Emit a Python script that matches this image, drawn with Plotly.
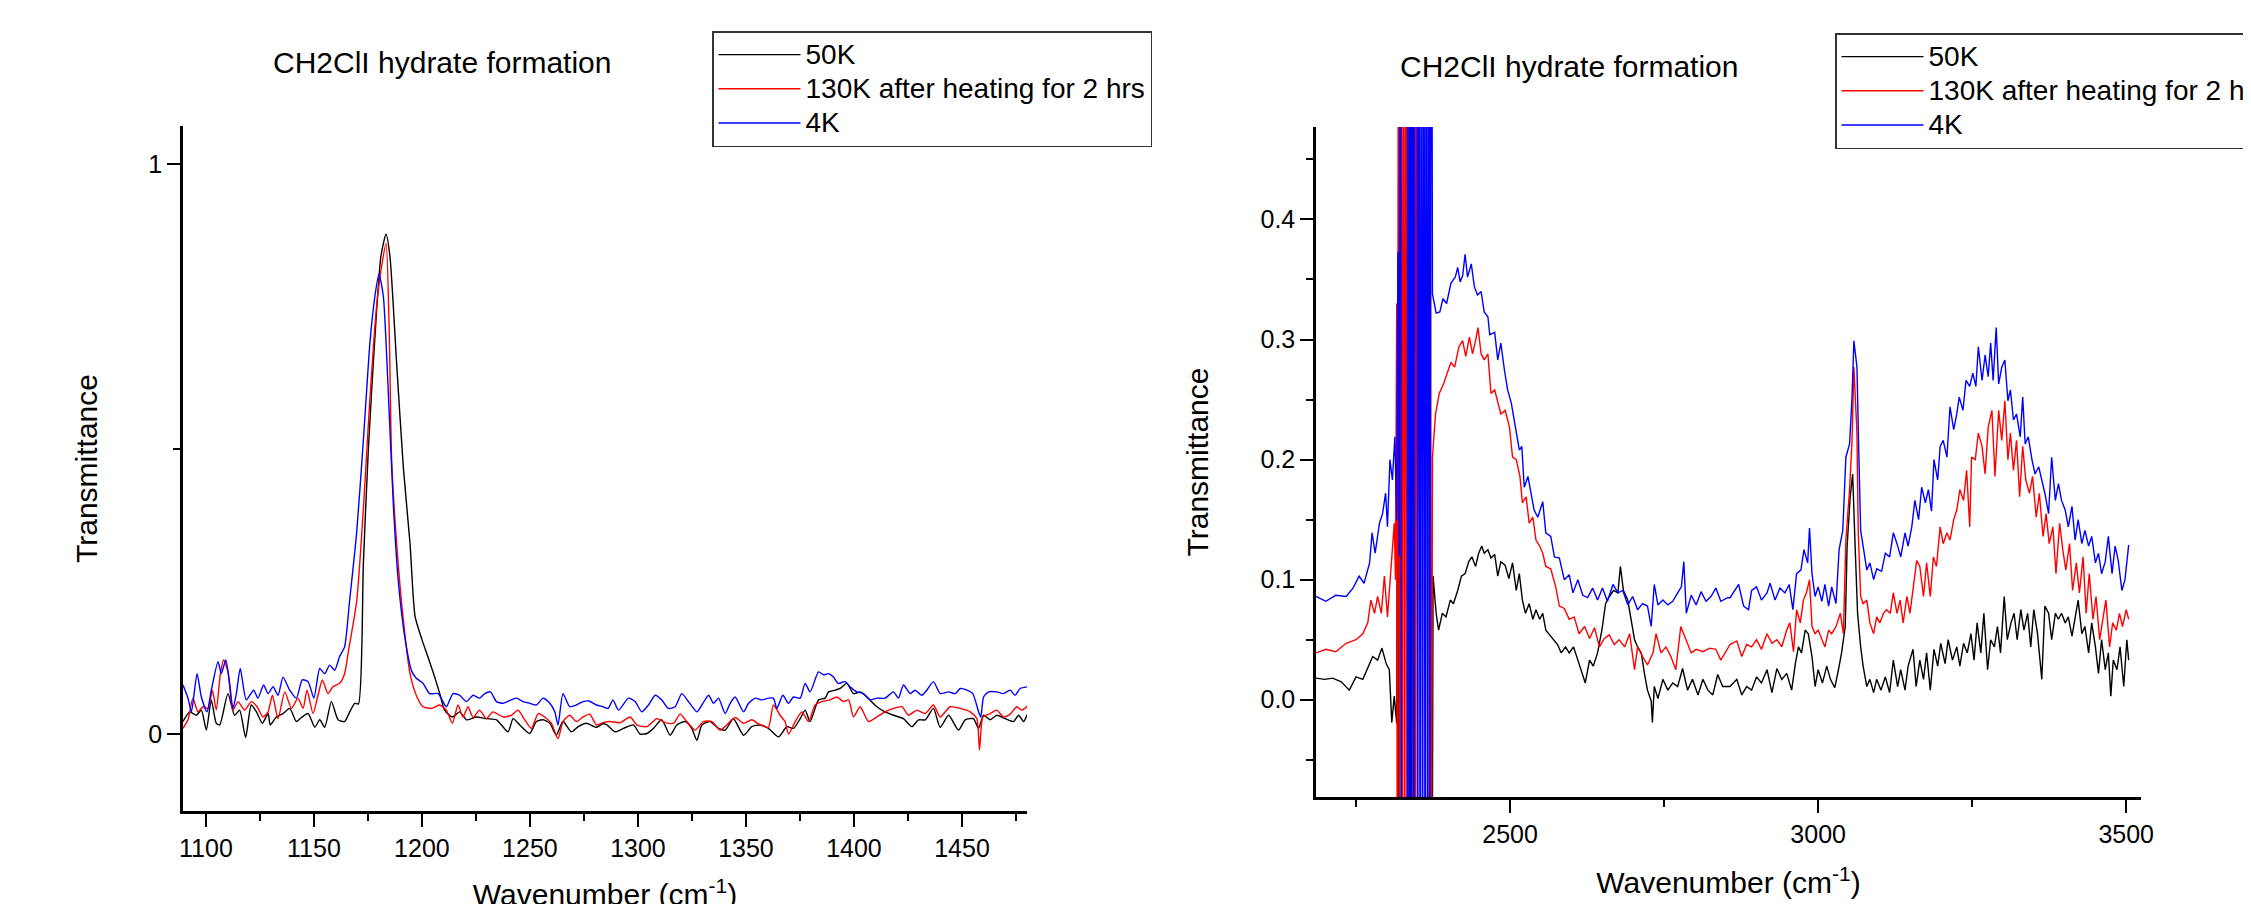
import plotly.graph_objects as go

# ---------------- Left panel data (1090-1480 cm-1) ----------------
L_black_x = [1089.4, 1092.5, 1095.6, 1097.9, 1100.2, 1102.5, 1104.8, 1106.4, 1110.2, 1113.3, 1115.6, 1118.4,
             1121.0, 1123.4, 1126.1, 1128.8, 1129.8, 1132.6, 1135.7, 1138.8, 1141.9, 1144.2, 1147.3, 1150.4,
             1152.7, 1155.0, 1158.1, 1161.2, 1164.2, 1166.6, 1168.9, 1170.6, 1172.9, 1175.2, 1178.3, 1181.0,
             1183.4, 1185.2, 1188.3, 1191.4, 1194.5, 1196.8, 1199.9, 1203.0, 1206.0, 1208.4, 1210.5, 1214.1,
             1217.5, 1220.6, 1225.2, 1229.8, 1234.5, 1239.9, 1242.2, 1245.3, 1249.9, 1253.0, 1256.1, 1259.2,
             1262.2, 1265.3, 1269.2, 1272.3, 1276.1, 1280.8, 1283.8, 1285.6, 1289.4, 1293.3, 1297.9, 1301.0,
             1304.1, 1307.2, 1311.0, 1314.9, 1318.0, 1321.9, 1324.9, 1327.3, 1329.6, 1333.4, 1337.3, 1340.4,
             1344.2, 1348.9, 1352.7, 1356.6, 1360.4, 1365.1, 1368.9, 1372.0, 1375.1, 1377.4, 1379.7, 1383.6,
             1386.7, 1388.2, 1391.3, 1393.6, 1396.7, 1399.8, 1402.9, 1406.0, 1410.6, 1414.4, 1418.3, 1422.9,
             1426.8, 1429.9, 1433.0, 1436.8, 1439.9, 1443.8, 1448.4, 1451.5, 1455.3, 1457.7, 1460.0, 1463.1,
             1466.1, 1470.0, 1473.9, 1476.2, 1478.5, 1480.3]
L_black_y = [0.022, 0.039, 0.033, 0.042, 0.007, 0.060, 0.019, 0.016, 0.071, 0.033, 0.042, -0.006,
             0.051, 0.039, 0.019, 0.036, 0.016, 0.030, 0.036, 0.045, 0.022, 0.029, 0.036, 0.012,
             0.025, 0.012, 0.057, 0.025, 0.022, 0.039, 0.054, 0.053, 0.300, 0.500, 0.700, 0.838,
             0.877, 0.838, 0.650, 0.468, 0.334, 0.207, 0.167, 0.133, 0.099, 0.069, 0.042, 0.030,
             0.039, 0.025, 0.030, 0.027, 0.025, 0.004, 0.027, 0.016, 0.001, 0.022, 0.025, 0.019,
             -0.002, 0.022, 0.004, 0.013, 0.019, 0.012, 0.018, 0.016, 0.004, 0.010, 0.016, 0.000,
             0.001, 0.010, 0.025, -0.002, 0.016, 0.022, 0.010, -0.011, 0.016, 0.022, 0.010, 0.007,
             0.027, -0.002, 0.013, 0.016, 0.010, -0.005, 0.013, 0.010, 0.027, 0.042, 0.022, 0.060,
             0.063, 0.074, 0.077, 0.080, 0.089, 0.071, 0.074, 0.065, 0.048, 0.039, 0.033, 0.027,
             0.013, 0.025, 0.025, 0.045, 0.012, 0.033, 0.007, 0.025, 0.027, 0.010, 0.033, 0.025,
             0.033, 0.027, 0.022, 0.033, 0.022, 0.035]

L_red_x = [1089.4, 1091.7, 1094.0, 1096.3, 1098.7, 1101.0, 1103.0, 1104.8, 1106.7, 1108.2, 1110.2, 1112.5,
           1114.9, 1117.9, 1121.0, 1123.7, 1126.4, 1128.8, 1130.8, 1133.4, 1136.5, 1139.6, 1142.6, 1145.0,
           1146.8, 1149.6, 1151.9, 1153.9, 1156.5, 1158.8, 1161.9, 1164.2, 1166.0, 1169.8, 1172.9, 1175.6,
           1179.0, 1181.3, 1183.4, 1184.9, 1186.0, 1188.3, 1191.4, 1194.5, 1197.6, 1200.5, 1204.4, 1208.2,
           1211.3, 1214.1, 1216.7, 1219.0, 1221.3, 1223.7, 1226.7, 1229.8, 1232.9, 1237.5, 1241.4, 1244.5,
           1247.6, 1250.7, 1253.8, 1256.8, 1259.9, 1263.0, 1265.3, 1268.4, 1271.5, 1274.6, 1277.7, 1280.8,
           1283.8, 1287.1, 1291.8, 1296.4, 1299.5, 1304.1, 1308.7, 1312.6, 1316.5, 1319.5, 1322.6, 1326.5,
           1330.3, 1334.2, 1338.1, 1341.1, 1345.0, 1348.9, 1352.7, 1356.6, 1360.4, 1362.7, 1365.8, 1368.1,
           1369.7, 1372.8, 1375.9, 1379.0, 1382.0, 1385.1, 1389.0, 1392.1, 1395.2, 1397.5, 1399.8, 1402.9,
           1406.7, 1410.6, 1414.4, 1418.3, 1422.2, 1425.2, 1429.1, 1433.0, 1436.8, 1439.9, 1444.5, 1449.2,
           1453.8, 1456.9, 1458.1, 1459.7, 1463.1, 1466.1, 1469.2, 1472.3, 1475.4, 1477.7, 1480.3]
L_red_y = [0.010, 0.025, 0.063, 0.039, 0.048, 0.045, 0.077, 0.042, 0.106, 0.130, 0.109, 0.042,
           0.057, 0.042, 0.057, 0.048, 0.030, 0.039, 0.068, 0.027, 0.074, 0.045, 0.063, 0.045,
           0.077, 0.036, 0.068, 0.095, 0.071, 0.083, 0.089, 0.106, 0.146, 0.233, 0.395, 0.569,
           0.750, 0.820, 0.861, 0.700, 0.480, 0.334, 0.200, 0.106, 0.066, 0.048, 0.045, 0.051,
           0.042, 0.019, 0.051, 0.030, 0.048, 0.029, 0.042, 0.027, 0.039, 0.030, 0.033, 0.042,
           0.025, 0.010, 0.036, 0.030, 0.019, -0.008, 0.022, 0.033, 0.022, 0.030, 0.035, 0.016,
           0.020, 0.022, 0.020, 0.030, 0.016, 0.013, 0.027, 0.020, 0.019, 0.035, 0.022, 0.007,
           0.022, 0.022, 0.007, 0.016, 0.029, 0.019, 0.025, 0.016, 0.012, 0.051, 0.033, 0.022,
           0.000, 0.022, 0.039, 0.022, 0.051, 0.057, 0.060, 0.065, 0.057, 0.060, 0.030, 0.048,
           0.022, 0.030, 0.039, 0.045, 0.048, 0.033, 0.042, 0.036, 0.051, 0.030, 0.048, 0.045,
           0.039, 0.027, -0.028, 0.030, 0.036, 0.042, 0.030, 0.035, 0.048, 0.042, 0.049]

L_blue_x = [1089.4, 1091.7, 1093.3, 1095.9, 1097.9, 1100.5, 1102.5, 1105.6, 1107.1, 1109.2, 1111.0, 1112.5,
            1114.1, 1115.9, 1118.7, 1122.1, 1124.1, 1126.7, 1128.8, 1131.1, 1133.4, 1135.7, 1138.8, 1141.9,
            1144.6, 1147.3, 1150.0, 1152.7, 1155.0, 1157.3, 1159.6, 1161.9, 1164.2, 1166.5, 1169.8, 1172.9,
            1176.0, 1178.3, 1180.1, 1182.1, 1184.4, 1186.8, 1189.1, 1192.2, 1195.3, 1197.4, 1200.5, 1203.6,
            1207.5, 1211.3, 1214.4, 1217.5, 1220.6, 1223.7, 1226.7, 1229.1, 1231.7, 1234.5, 1237.5, 1241.4,
            1243.7, 1246.8, 1249.9, 1253.0, 1256.1, 1259.2, 1261.5, 1263.0, 1265.3, 1268.4, 1271.5, 1274.6,
            1277.4, 1280.8, 1283.8, 1286.2, 1288.4, 1291.0, 1295.6, 1298.7, 1301.8, 1304.9, 1308.0, 1311.0,
            1314.1, 1317.2, 1320.3, 1323.4, 1327.3, 1329.6, 1332.7, 1335.0, 1337.3, 1340.4, 1342.7, 1345.0,
            1348.9, 1351.2, 1354.3, 1357.3, 1360.4, 1362.7, 1364.3, 1367.1, 1369.7, 1372.0, 1375.1, 1377.4,
            1379.7, 1383.6, 1385.9, 1388.2, 1390.5, 1392.8, 1395.9, 1398.2, 1401.3, 1404.4, 1407.5, 1410.6,
            1414.4, 1418.3, 1420.6, 1422.9, 1426.0, 1428.3, 1431.4, 1433.7, 1436.8, 1439.9, 1443.8, 1446.9,
            1449.2, 1452.3, 1455.0, 1457.7, 1458.7, 1460.0, 1462.3, 1466.1, 1469.2, 1472.3, 1474.6, 1476.9,
            1480.3]
L_blue_y = [0.086, 0.063, 0.039, 0.106, 0.065, 0.039, 0.077, 0.127, 0.106, 0.130, 0.089, 0.045,
            0.071, 0.115, 0.060, 0.077, 0.063, 0.086, 0.071, 0.083, 0.068, 0.100, 0.077, 0.063,
            0.095, 0.092, 0.063, 0.115, 0.106, 0.121, 0.112, 0.136, 0.153, 0.233, 0.354, 0.516,
            0.690, 0.770, 0.807, 0.770, 0.603, 0.400, 0.267, 0.167, 0.110, 0.098, 0.089, 0.071,
            0.071, 0.048, 0.071, 0.068, 0.057, 0.068, 0.063, 0.071, 0.074, 0.057, 0.054, 0.060,
            0.063, 0.057, 0.054, 0.051, 0.063, 0.054, 0.039, 0.016, 0.071, 0.048, 0.051, 0.057,
            0.058, 0.051, 0.048, 0.045, 0.060, 0.042, 0.063, 0.057, 0.039, 0.051, 0.068, 0.060,
            0.045, 0.048, 0.071, 0.057, 0.039, 0.051, 0.068, 0.054, 0.063, 0.036, 0.054, 0.065,
            0.039, 0.054, 0.063, 0.060, 0.063, 0.063, 0.045, 0.068, 0.054, 0.065, 0.063, 0.089,
            0.074, 0.109, 0.104, 0.106, 0.100, 0.089, 0.092, 0.083, 0.074, 0.071, 0.060, 0.063,
            0.063, 0.074, 0.063, 0.086, 0.071, 0.077, 0.068, 0.077, 0.092, 0.071, 0.074, 0.071,
            0.080, 0.077, 0.071, 0.039, 0.030, 0.065, 0.074, 0.074, 0.071, 0.077, 0.068, 0.080,
            0.083]

# ---------------- Right panel data (2185-3520 cm-1) ----------------
R_black_x = [2185, 2199, 2212, 2226, 2239, 2250, 2261, 2272, 2277, 2285, 2292, 2299, 2304, 2308, 2312, 2316,
             2318, 2320, 2322, 2324, 2336, 2337, 2339, 2341, 2343, 2373, 2375, 2380, 2384, 2390, 2396, 2403,
             2408, 2415, 2421, 2427, 2433, 2438, 2444, 2449, 2454, 2458, 2464, 2469, 2475, 2480, 2485, 2492,
             2498, 2504, 2510, 2515, 2520, 2525, 2531, 2537, 2542, 2548, 2553, 2558, 2564, 2570, 2577, 2583,
             2590, 2596, 2603, 2610, 2615, 2622, 2629, 2635, 2642, 2649, 2655, 2661, 2668, 2675, 2679, 2684,
             2691, 2696, 2702, 2707, 2713, 2718, 2723, 2729, 2731, 2734, 2740, 2748, 2756, 2764, 2772, 2780,
             2788, 2796, 2805, 2813, 2821, 2829, 2837, 2845, 2857, 2868, 2876, 2884, 2892, 2900, 2908, 2917,
             2925, 2933, 2941, 2949, 2957, 2963, 2968, 2973, 2979, 2984, 2990, 2995, 3000, 3007, 3014, 3020,
             3027, 3033, 3038, 3044, 3047, 3052, 3056, 3060, 3064, 3069, 3073, 3079, 3084, 3090, 3095, 3102,
             3109, 3116, 3122, 3129, 3134, 3141, 3146, 3154, 3159, 3165, 3171, 3176, 3182, 3188, 3194, 3199,
             3206, 3211, 3218, 3225, 3230, 3236, 3242, 3248, 3253, 3258, 3264, 3269, 3275, 3280, 3286, 3291,
             3296, 3302, 3307, 3313, 3318, 3323, 3329, 3334, 3340, 3345, 3350, 3356, 3363, 3368, 3374, 3379,
             3385, 3390, 3395, 3401, 3406, 3412, 3417, 3422, 3428, 3433, 3439, 3444, 3450, 3455, 3460, 3466,
             3471, 3475, 3479, 3485, 3490, 3496, 3501, 3504]
R_black_y = [0.018, 0.017, 0.018, 0.015, 0.008, 0.019, 0.017, 0.030, 0.036, 0.033, 0.043, 0.030, 0.025, -0.019, 0.003, -0.020,
             0.370, -0.300, 0.900, -0.300, -0.300, 0.900, -0.300, 0.900, -0.300, -0.300, 0.103, 0.072, 0.058, 0.072, 0.069, 0.083,
             0.080, 0.091, 0.103, 0.105, 0.115, 0.119, 0.111, 0.122, 0.128, 0.122, 0.125, 0.118, 0.121, 0.103, 0.115, 0.112,
             0.101, 0.114, 0.091, 0.105, 0.083, 0.072, 0.080, 0.067, 0.075, 0.067, 0.072, 0.058, 0.054, 0.051, 0.046, 0.039,
             0.044, 0.039, 0.044, 0.033, 0.025, 0.014, 0.033, 0.028, 0.039, 0.058, 0.080, 0.086, 0.091, 0.089, 0.111, 0.091,
             0.083, 0.067, 0.050, 0.044, 0.039, 0.022, 0.008, -0.001, -0.019, 0.011, 0.001, 0.017, 0.008, 0.014, 0.011, 0.026,
             0.008, 0.017, 0.004, 0.017, 0.008, 0.004, 0.021, 0.011, 0.011, 0.017, 0.004, 0.011, 0.008, 0.019, 0.014, 0.025,
             0.006, 0.026, 0.017, 0.022, 0.008, 0.030, 0.044, 0.039, 0.058, 0.055, 0.036, 0.011, 0.025, 0.014, 0.028, 0.017,
             0.010, 0.025, 0.039, 0.061, 0.128, 0.169, 0.188, 0.128, 0.072, 0.044, 0.028, 0.011, 0.017, 0.006, 0.017, 0.008,
             0.019, 0.006, 0.033, 0.011, 0.025, 0.008, 0.028, 0.042, 0.011, 0.033, 0.017, 0.039, 0.008, 0.042, 0.028, 0.047,
             0.030, 0.050, 0.033, 0.044, 0.028, 0.047, 0.039, 0.055, 0.033, 0.064, 0.039, 0.072, 0.025, 0.050, 0.044, 0.061,
             0.039, 0.086, 0.050, 0.064, 0.072, 0.050, 0.075, 0.058, 0.072, 0.044, 0.075, 0.055, 0.017, 0.078, 0.072, 0.050,
             0.072, 0.067, 0.072, 0.064, 0.069, 0.053, 0.067, 0.083, 0.055, 0.061, 0.039, 0.064, 0.044, 0.022, 0.050, 0.025,
             0.039, 0.003, 0.033, 0.025, 0.044, 0.011, 0.050, 0.033]

R_red_x = [2185, 2201, 2217, 2234, 2250, 2261, 2269, 2274, 2280, 2285, 2291, 2296, 2301, 2307, 2312, 2314,
           2316, 2317, 2319, 2321, 2323, 2325, 2327, 2329, 2331, 2333, 2343, 2344, 2346, 2348, 2350, 2368,
           2370, 2372, 2374, 2379, 2385, 2392, 2399, 2404, 2410, 2417, 2423, 2428, 2434, 2439, 2444, 2448,
           2453, 2458, 2464, 2469, 2475, 2480, 2485, 2492, 2499, 2504, 2510, 2516, 2520, 2526, 2531, 2537,
           2542, 2548, 2553, 2558, 2566, 2574, 2580, 2588, 2596, 2604, 2612, 2621, 2629, 2637, 2645, 2653,
           2661, 2669, 2677, 2686, 2694, 2702, 2707, 2715, 2723, 2732, 2737, 2745, 2753, 2761, 2769, 2777,
           2786, 2794, 2802, 2813, 2824, 2834, 2842, 2853, 2857, 2868, 2876, 2884, 2892, 2900, 2908, 2917,
           2925, 2933, 2941, 2949, 2954, 2960, 2965, 2971, 2976, 2981, 2986, 2990, 2995, 3000, 3006, 3011,
           3017, 3022, 3029, 3036, 3041, 3045, 3051, 3055, 3058, 3063, 3065, 3069, 3073, 3079, 3084, 3090,
           3095, 3100, 3106, 3111, 3117, 3122, 3128, 3133, 3138, 3144, 3149, 3155, 3160, 3165, 3171, 3176,
           3182, 3187, 3192, 3198, 3203, 3209, 3214, 3220, 3225, 3230, 3236, 3241, 3246, 3249, 3255, 3260,
           3266, 3271, 3276, 3282, 3287, 3293, 3298, 3303, 3308, 3312, 3317, 3322, 3327, 3332, 3337, 3343,
           3348, 3354, 3359, 3365, 3370, 3375, 3381, 3386, 3392, 3397, 3402, 3408, 3413, 3419, 3424, 3430,
           3435, 3440, 3446, 3451, 3457, 3462, 3467, 3473, 3478, 3484, 3489, 3494, 3500, 3504]
R_red_y = [0.039, 0.042, 0.040, 0.047, 0.050, 0.055, 0.064, 0.083, 0.072, 0.086, 0.072, 0.103, 0.069, 0.114, 0.147, 0.100,
           0.330, -0.300, 0.900, -0.300, 0.900, -0.300, 0.900, -0.300, 0.900, -0.300, -0.300, 0.900, -0.300, 0.900, -0.300, -0.300,
           0.900, -0.300, 0.202, 0.238, 0.255, 0.263, 0.274, 0.281, 0.277, 0.294, 0.299, 0.286, 0.302, 0.288, 0.299, 0.310,
           0.288, 0.283, 0.288, 0.255, 0.258, 0.249, 0.238, 0.241, 0.227, 0.202, 0.200, 0.186, 0.164, 0.169, 0.147, 0.152,
           0.133, 0.128, 0.122, 0.111, 0.109, 0.094, 0.078, 0.076, 0.067, 0.069, 0.055, 0.061, 0.051, 0.060, 0.044, 0.051,
           0.054, 0.046, 0.050, 0.044, 0.055, 0.025, 0.044, 0.036, 0.029, 0.039, 0.055, 0.039, 0.044, 0.036, 0.025, 0.061,
           0.050, 0.039, 0.042, 0.040, 0.043, 0.042, 0.033, 0.043, 0.046, 0.049, 0.036, 0.046, 0.044, 0.050, 0.042, 0.055,
           0.047, 0.050, 0.044, 0.058, 0.064, 0.040, 0.075, 0.064, 0.083, 0.089, 0.100, 0.061, 0.055, 0.058, 0.050, 0.044,
           0.058, 0.055, 0.061, 0.072, 0.055, 0.133, 0.175, 0.216, 0.277, 0.222, 0.141, 0.086, 0.080, 0.083, 0.064, 0.055,
           0.069, 0.064, 0.072, 0.075, 0.072, 0.089, 0.072, 0.083, 0.064, 0.086, 0.072, 0.097, 0.116, 0.111, 0.086, 0.114,
           0.086, 0.119, 0.111, 0.144, 0.130, 0.139, 0.133, 0.150, 0.158, 0.175, 0.166, 0.191, 0.144, 0.202, 0.200, 0.222,
           0.211, 0.188, 0.227, 0.241, 0.186, 0.241, 0.216, 0.249, 0.200, 0.222, 0.191, 0.216, 0.169, 0.211, 0.183, 0.172,
           0.186, 0.152, 0.172, 0.136, 0.155, 0.130, 0.144, 0.105, 0.147, 0.125, 0.108, 0.130, 0.091, 0.114, 0.089, 0.119,
           0.072, 0.105, 0.067, 0.086, 0.050, 0.067, 0.083, 0.044, 0.064, 0.058, 0.072, 0.061, 0.075, 0.067]

R_blue_x = [2185, 2201, 2217, 2234, 2245, 2255, 2263, 2272, 2276, 2281, 2288, 2293, 2298, 2301, 2305, 2309,
            2313, 2316, 2318, 2320, 2322, 2324, 2333, 2334, 2336, 2338, 2340, 2342, 2344, 2346, 2349, 2350,
            2352, 2354, 2356, 2358, 2360, 2362, 2364, 2366, 2368, 2370, 2372, 2374, 2380, 2386, 2391, 2397,
            2404, 2411, 2415, 2419, 2423, 2427, 2431, 2437, 2442, 2447, 2453, 2458, 2464, 2467, 2475, 2480,
            2485, 2491, 2496, 2502, 2509, 2515, 2519, 2523, 2529, 2534, 2539, 2545, 2553, 2558, 2566, 2572,
            2580, 2588, 2596, 2602, 2610, 2618, 2626, 2634, 2642, 2650, 2658, 2667, 2675, 2683, 2691, 2699,
            2707, 2715, 2723, 2729, 2734, 2740, 2748, 2756, 2764, 2772, 2778, 2782, 2786, 2794, 2802, 2810,
            2818, 2826, 2834, 2842, 2853, 2857, 2871, 2879, 2887, 2892, 2900, 2908, 2917, 2922, 2930, 2938,
            2946, 2953, 2959, 2965, 2972, 2977, 2983, 2986, 2990, 2995, 3000, 3006, 3011, 3017, 3022, 3029,
            3034, 3040, 3045, 3051, 3055, 3058, 3063, 3066, 3069, 3073, 3079, 3084, 3090, 3095, 3103, 3109,
            3116, 3122, 3128, 3134, 3141, 3146, 3152, 3157, 3163, 3168, 3174, 3179, 3184, 3188, 3194, 3198,
            3203, 3209, 3214, 3220, 3225, 3229, 3235, 3240, 3246, 3251, 3256, 3260, 3266, 3271, 3276, 3280,
            3284, 3289, 3293, 3298, 3303, 3308, 3312, 3317, 3322, 3328, 3332, 3336, 3341, 3347, 3352, 3358,
            3363, 3368, 3374, 3379, 3385, 3390, 3395, 3401, 3406, 3412, 3417, 3422, 3428, 3433, 3439, 3444,
            3450, 3455, 3460, 3466, 3471, 3477, 3482, 3487, 3493, 3498, 3504]
R_blue_y = [0.086, 0.082, 0.087, 0.086, 0.093, 0.103, 0.097, 0.114, 0.139, 0.122, 0.147, 0.155, 0.172, 0.144, 0.200, 0.183,
            0.219, 0.150, 0.373, 0.120, 0.900, -0.300, -0.300, 0.900, -0.300, 0.900, -0.300, 0.900, -0.300, 0.900, 0.900, -0.300,
            0.900, -0.300, 0.900, -0.300, 0.900, -0.300, 0.900, -0.300, 0.900, -0.300, 0.900, 0.338, 0.322, 0.323, 0.334, 0.330,
            0.347, 0.352, 0.360, 0.348, 0.353, 0.371, 0.352, 0.363, 0.344, 0.337, 0.340, 0.323, 0.319, 0.304, 0.306, 0.283,
            0.297, 0.274, 0.258, 0.247, 0.227, 0.208, 0.211, 0.177, 0.186, 0.172, 0.158, 0.152, 0.165, 0.139, 0.136, 0.119,
            0.118, 0.100, 0.104, 0.089, 0.100, 0.087, 0.085, 0.093, 0.083, 0.093, 0.082, 0.096, 0.089, 0.091, 0.079, 0.086,
            0.075, 0.080, 0.078, 0.061, 0.096, 0.079, 0.083, 0.079, 0.082, 0.089, 0.094, 0.115, 0.072, 0.087, 0.079, 0.090,
            0.082, 0.086, 0.093, 0.082, 0.085, 0.085, 0.096, 0.078, 0.075, 0.091, 0.094, 0.083, 0.089, 0.097, 0.083, 0.093,
            0.089, 0.096, 0.075, 0.105, 0.108, 0.125, 0.114, 0.143, 0.105, 0.086, 0.094, 0.082, 0.096, 0.078, 0.094, 0.080,
            0.125, 0.141, 0.202, 0.213, 0.252, 0.299, 0.277, 0.205, 0.141, 0.128, 0.108, 0.114, 0.100, 0.109, 0.107, 0.122,
            0.119, 0.139, 0.130, 0.119, 0.139, 0.128, 0.144, 0.166, 0.150, 0.177, 0.164, 0.175, 0.157, 0.200, 0.183, 0.211,
            0.216, 0.202, 0.244, 0.225, 0.238, 0.252, 0.241, 0.266, 0.261, 0.272, 0.261, 0.294, 0.266, 0.287, 0.269, 0.297,
            0.266, 0.310, 0.263, 0.277, 0.283, 0.249, 0.258, 0.233, 0.238, 0.219, 0.252, 0.213, 0.219, 0.200, 0.188, 0.194,
            0.183, 0.172, 0.155, 0.202, 0.166, 0.180, 0.166, 0.158, 0.144, 0.161, 0.133, 0.150, 0.130, 0.141, 0.128, 0.136,
            0.114, 0.122, 0.105, 0.115, 0.136, 0.105, 0.128, 0.116, 0.091, 0.100, 0.129]

SERIES_NAMES = ["50K", "130K after heating for 2 hrs", "4K"]
COLORS = ["#000000", "#FF0000", "#0000FF"]
TITLE = "CH2ClI hydrate formation"
X_TITLE = "Wavenumber (cm<sup>-1</sup>)"
Y_TITLE = "Transmittance"

FONT = "Arial, 'Liberation Sans', sans-serif"
W, H = 2251, 904
OFF = 8  # page body margin offset in the browser


def px(x):
    return (x - OFF) / W


def py(y):
    return 1 - (y - OFF) / H


def legend_label(name):
    return '<span style="font-size:28px">' + name + '</span>'


fig = go.Figure()

left = [(L_black_x, L_black_y), (L_red_x, L_red_y), (L_blue_x, L_blue_y)]
right = [(R_black_x, R_black_y), (R_red_x, R_red_y), (R_blue_x, R_blue_y)]

for (xs, ys), name, col in zip(left, SERIES_NAMES, COLORS):
    fig.add_trace(go.Scatter(x=xs, y=ys, mode="lines", name=legend_label(name), legend="legend",
                             line=dict(color=col, width=1.4, shape="spline", smoothing=0.6),
                             xaxis="x", yaxis="y"))
for (xs, ys), name, col in zip(right, SERIES_NAMES, COLORS):
    fig.add_trace(go.Scatter(x=xs, y=ys, mode="lines", name=legend_label(name), legend="legend2",
                             line=dict(color=col, width=1.4),
                             xaxis="x2", yaxis="y2"))

axis_common = dict(
    showline=True, linecolor="black", linewidth=2.5, mirror=False,
    showgrid=False, zeroline=False,
    ticks="outside", ticklen=13, tickwidth=2, tickcolor="black",
    tickfont=dict(family=FONT, size=25, color="black"),
    title_font=dict(family=FONT, size=30, color="black"),
)
minor_common = dict(ticks="outside", ticklen=7, tickwidth=2, tickcolor="black")
legend_common = dict(xanchor="left", yanchor="top", bgcolor="white",
                     bordercolor="#333333", borderwidth=1.5, itemwidth=82,
                     font=dict(family=FONT, size=24, color="black"), tracegroupgap=0)

fig.update_layout(
    width=W, height=H,
    margin=dict(l=0, r=0, t=0, b=0, autoexpand=False),
    paper_bgcolor="white", plot_bgcolor="white",
    font=dict(family=FONT, color="black"),
    xaxis=dict(domain=[px(183), px(1027)], anchor="y", range=[1089.4, 1480.1],
               tick0=1000, dtick=50, minor=dict(dtick=25, **minor_common),
               title=dict(text=X_TITLE, standoff=24), **axis_common),
    yaxis=dict(domain=[py(811), py(126)], anchor="x", range=[-0.135, 1.067],
               tickvals=[0, 1], ticktext=["0", "1"],
               minor=dict(tickvals=[0.5], **minor_common),
               title=dict(text=Y_TITLE, standoff=42), **axis_common),
    xaxis2=dict(domain=[px(1316), px(2141)], anchor="y2", range=[2185, 3524],
                tick0=2000, dtick=500, minor=dict(dtick=250, **minor_common),
                title=dict(text=X_TITLE, standoff=26), **axis_common),
    yaxis2=dict(domain=[py(797), py(127)], anchor="x2", range=[-0.081, 0.477],
                tick0=0, dtick=0.1, tickformat=".1f",
                minor=dict(dtick=0.05, **minor_common),
                title=dict(text=Y_TITLE, standoff=43), **axis_common),
    legend=dict(x=px(712), y=py(31), **legend_common),
    legend2=dict(x=px(1835), y=py(33), **legend_common),
    annotations=[
        dict(text=TITLE, x=px(442), y=py(63), xref="paper", yref="paper",
             xanchor="center", yanchor="middle", showarrow=False,
             font=dict(family=FONT, size=30, color="black")),
        dict(text=TITLE, x=px(1569), y=py(66), xref="paper", yref="paper",
             xanchor="center", yanchor="middle", showarrow=False,
             font=dict(family=FONT, size=30, color="black")),
    ],
    showlegend=True,
)

fig.write_html("out.html")
